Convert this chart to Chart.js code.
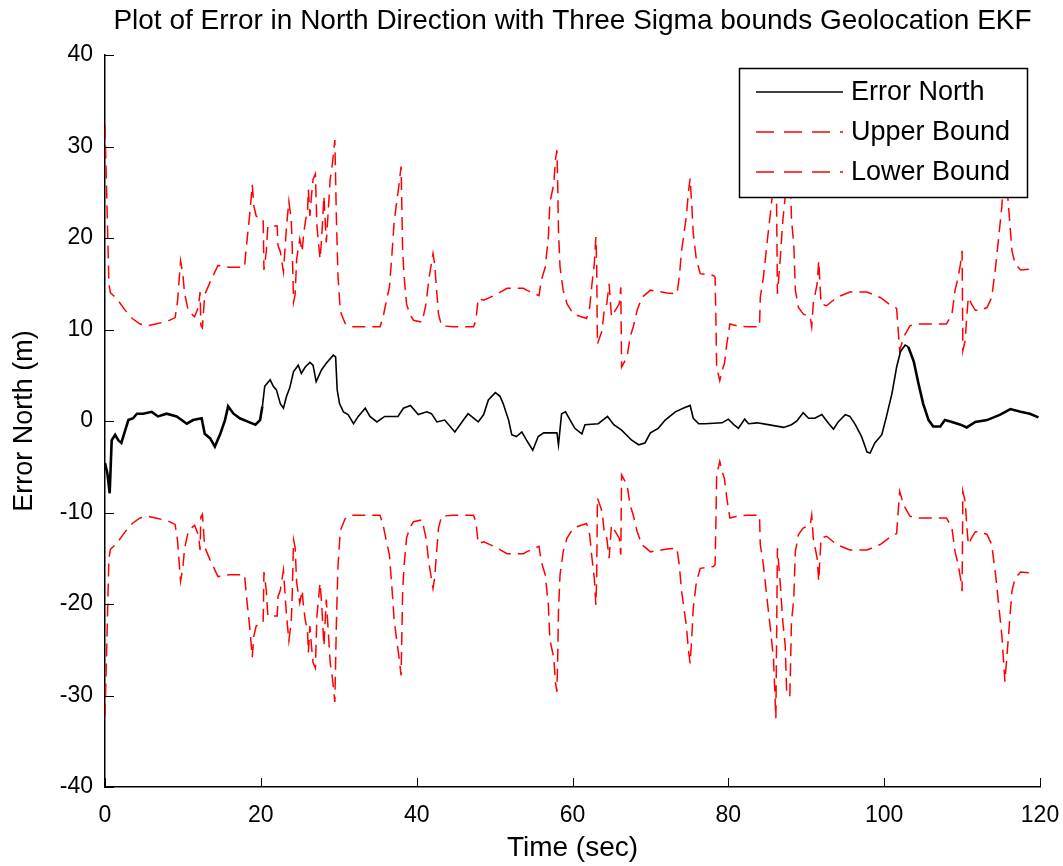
<!DOCTYPE html>
<html>
<head>
<meta charset="utf-8">
<script src="https://cdn.jsdelivr.net/npm/chart.js@4.4.0/dist/chart.umd.min.js"></script>
<style>
  body { margin: 0; background: #fff; }
  #wrap { width: 1063px; height: 866px; }
</style>
</head>
<body>
<div id="wrap"><canvas id="myChart" width="1063" height="866"></canvas></div>
<script>
// error in north direction (time in sec, error in m)
const errTime = [0,0.3,0.6,0.86,1.3,1.7,2.1,2.6,3.0,3.6,4.1,4.9,6.0,6.8,7.9,9.2,10.5,11.3,12.4,12.8,13.5,14.1,14.8,15.4,15.8,16.5,17.3,18.4,19.3,19.9,
  20.2,20.5,21.2,21.6,22.0,22.5,22.9,23.3,23.7,24.2,24.8,25.2,25.7,26.3,26.7,27.1,27.8,28.4,29.3,29.6,29.8,30.1,30.6,31.2,31.9,32.5,33.4,34.0,34.9,35.9,
  37.6,38.3,39.2,40.2,41.3,41.9,42.6,43.6,44.9,46.0,46.6,47.9,48.6,49.2,50.1,50.7,51.1,51.8,52.2,52.8,53.5,54.1,54.9,55.6,56.3,58.0,58.2,58.6,59.1,59.7,
  60.3,61.2,61.6,63.3,64.5,65.3,66.3,67.6,68.5,69.3,70.0,71.0,71.9,73.2,74.2,75.1,75.5,76.2,77.0,79.2,80.0,80.7,81.3,82.1,82.6,83.7,85.1,87.1,88.1,88.8,
  89.6,90.3,91.1,92.0,92.9,93.5,94.1,95.0,95.6,96.3,97.1,97.8,98.2,98.8,99.7,100.3,101.0,101.6,102.1,102.7,103.1,103.8,104.4,105.0,105.7,106.3,107.2,107.8,108.7,109.8,
  110.6,111.7,113.2,114.9,116.2,117.5,118.7,119.8];
const errNorth = [-4.6,-5.7,-7.9,-2.1,-1.5,-2.1,-2.4,-1.0,0.1,0.3,0.8,0.8,1.0,0.5,0.8,0.5,-0.3,0.1,0.3,-1.4,-1.9,-2.8,-1.4,0.1,1.6,0.8,0.3,-0.1,-0.4,0.1,
  1.6,3.8,4.5,3.8,3.4,1.9,1.4,2.7,3.6,5.4,6.1,5.2,5.9,6.4,6.1,4.3,5.6,6.3,7.2,7.0,3.4,1.9,1.0,0.7,-0.3,0.5,1.4,0.5,-0.1,0.5,
  0.5,1.4,1.7,0.7,1.0,0.8,-0.1,0.1,-1.2,0.1,0.8,-0.1,0.7,2.3,3.1,2.7,1.9,0.1,-1.5,-1.7,-1.2,-2.1,-3.2,-1.7,-1.3,-1.3,-2.6,0.8,1.0,0.1,
  -0.8,-1.4,-0.4,-0.3,0.5,-0.4,-1.0,-2.1,-2.6,-2.4,-1.3,-0.8,0.1,1.0,1.4,1.7,0.3,-0.3,-0.3,-0.2,0.2,-0.4,-0.8,0.2,-0.3,-0.2,-0.4,-0.7,-0.4,0.0,
  0.9,0.3,0.3,0.7,-0.3,-0.9,-0.1,0.7,0.5,-0.4,-1.7,-3.4,-3.5,-2.4,-1.5,0.5,3.0,5.9,7.6,8.3,8.1,6.5,4.1,1.9,0.1,-0.6,-0.6,0.1,-0.1,-0.4,
  -0.7,-0.1,0.1,0.7,1.3,1.0,0.8,0.4];

// three sigma bounds
const boundTime = [0,0.3,0.5,0.7,1.5,2.5,3.5,4.5,5.5,6.5,8.0,9.0,9.3,9.7,10.0,10.2,10.7,11.5,12.0,12.2,12.3,12.5,12.8,13.5,14.5,16.0,17.9,18.2,18.6,18.9,
  19.1,19.4,20.3,20.4,20.7,20.9,21.3,22.1,22.2,22.5,22.9,23.3,23.6,23.9,24.0,24.2,24.4,24.6,25.0,25.3,25.5,25.7,26.0,26.1,26.3,26.5,26.7,27.0,27.2,27.6,
  27.8,28.1,28.4,28.9,29.2,29.5,29.7,29.9,30.2,30.8,31.6,32.7,35.3,35.7,36.2,36.5,36.8,37.1,37.4,37.7,38.0,38.1,38.2,38.4,38.7,39.1,39.6,40.7,41.2,41.6,
  42.1,42.3,42.5,42.8,43.2,44.7,47.3,47.6,47.9,48.6,49.9,51.6,53.7,54.1,55.7,56.0,56.5,56.9,57.1,57.6,57.8,58.0,58.1,58.2,58.4,58.8,59.3,60.1,61.8,62.2,
  62.5,62.8,63.0,63.1,63.2,63.8,64.1,64.4,64.7,65.0,66.0,66.2,66.3,67.0,67.4,67.8,68.3,68.9,70.0,72.1,73.4,73.7,74.0,74.6,74.9,75.1,75.3,75.5,75.9,76.4,
  78.1,78.3,78.4,78.5,78.9,79.2,79.5,79.8,80.2,81.1,82.4,84.0,84.1,84.5,85.0,85.4,85.8,86.1,86.3,86.6,87.0,87.3,87.5,87.9,88.1,88.4,88.6,89.0,89.6,90.5,
  90.7,90.9,91.4,91.6,91.9,92.6,93.9,95.6,97.8,99.5,100.6,101.6,101.8,102.0,102.5,103.3,104.2,108.0,108.7,109.1,109.5,109.8,110.0,110.1,110.4,110.6,110.8,111.2,111.7,112.3,
  113.2,113.8,114.3,114.7,115.1,115.5,116.0,116.4,116.8,117.5,118.7,119.0];
const upperBound = [32.3,22.0,15.0,14.0,13.4,12.2,11.2,10.6,10.4,10.6,10.9,11.3,13.0,17.5,16.0,14.0,12.0,11.4,12.5,14.1,10.5,10.2,13.8,15.2,17.0,16.8,16.8,19.5,22.8,25.8,
  23.5,22.4,22.0,16.5,18.5,21.3,21.3,21.3,19.2,18.5,16.3,21.3,24.0,22.0,19.9,13.0,13.8,17.7,19.9,18.5,20.5,21.7,23.1,25.3,22.4,24.6,26.4,27.0,21.3,17.7,
  19.9,24.6,19.5,26.4,28.2,30.7,22.0,15.9,12.0,10.7,10.3,10.3,10.3,11.4,13.5,14.6,17.9,21.6,23.7,25.6,27.8,23.4,18.6,15.7,12.8,11.7,11.0,10.8,12.8,15.7,
  18.3,17.2,15.0,11.7,10.4,10.3,10.3,11.0,13.4,13.2,13.7,14.5,14.5,14.3,13.7,15.4,16.8,20.1,23.9,25.9,28.5,29.6,25.9,20.8,16.8,14.3,12.8,11.7,11.2,12.4,
  15.0,17.2,20.1,17.2,8.4,9.9,12.4,12.8,15.0,11.4,12.8,14.6,5.9,7.0,9.2,10.3,12.1,13.5,14.3,14.0,13.9,15.7,18.6,22.3,25.2,26.5,23.7,20.5,17.6,16.1,
  15.9,15.7,11.4,5.9,4.4,5.5,6.3,8.4,10.6,10.4,10.3,10.3,13.5,15.7,19.7,22.7,26.0,32.5,13.9,17.0,22.0,24.5,30.0,30.0,22.0,19.4,14.3,12.4,11.7,11.4,
  10.3,12.8,15.0,17.5,12.8,12.6,13.5,14.1,14.1,13.5,12.8,12.3,9.9,7.7,9.2,10.4,10.6,10.6,11.7,14.3,15.7,17.2,18.6,7.7,8.8,11.4,13.5,12.8,12.1,12.1,
  12.4,13.5,16.8,20.1,23.4,28.5,23.0,18.6,17.2,16.5,16.6,16.8];
const lowerBound = [-32.3,-22.0,-15.0,-14.0,-13.4,-12.2,-11.2,-10.6,-10.4,-10.6,-10.9,-11.3,-13.0,-17.5,-16.0,-14.0,-12.0,-11.4,-12.5,-14.1,-10.5,-10.2,-13.8,-15.2,-17.0,-16.8,-16.8,-19.5,-22.8,-25.8,
  -23.5,-22.4,-22.0,-16.5,-18.5,-21.3,-21.3,-21.3,-19.2,-18.5,-16.3,-21.3,-24.0,-22.0,-19.9,-13.0,-13.8,-17.7,-19.9,-18.5,-20.5,-21.7,-23.1,-25.3,-22.4,-24.6,-26.4,-27.0,-21.3,-17.7,
  -19.9,-24.6,-19.5,-26.4,-28.2,-30.7,-22.0,-15.9,-12.0,-10.7,-10.3,-10.3,-10.3,-11.4,-13.5,-14.6,-17.9,-21.6,-23.7,-25.6,-27.8,-23.4,-18.6,-15.7,-12.8,-11.7,-11.0,-10.8,-12.8,-15.7,
  -18.3,-17.2,-15.0,-11.7,-10.4,-10.3,-10.3,-11.0,-13.4,-13.2,-13.7,-14.5,-14.5,-14.3,-13.7,-15.4,-16.8,-20.1,-23.9,-25.9,-28.5,-29.6,-25.9,-20.8,-16.8,-14.3,-12.8,-11.7,-11.2,-12.4,
  -15.0,-17.2,-20.1,-17.2,-8.4,-9.9,-12.4,-12.8,-15.0,-11.4,-12.8,-14.6,-5.9,-7.0,-9.2,-10.3,-12.1,-13.5,-14.3,-14.0,-13.9,-15.7,-18.6,-22.3,-25.2,-26.5,-23.7,-20.5,-17.6,-16.1,
  -15.9,-15.7,-11.4,-5.9,-4.4,-5.5,-6.3,-8.4,-10.6,-10.4,-10.3,-10.3,-13.5,-15.7,-19.7,-22.7,-26.0,-32.5,-13.9,-17.0,-22.0,-24.5,-30.0,-30.0,-22.0,-19.4,-14.3,-12.4,-11.7,-11.4,
  -10.3,-12.8,-15.0,-17.5,-12.8,-12.6,-13.5,-14.1,-14.1,-13.5,-12.8,-12.3,-9.9,-7.7,-9.2,-10.4,-10.6,-10.6,-11.7,-14.3,-15.7,-17.2,-18.6,-7.7,-8.8,-11.4,-13.5,-12.8,-12.1,-12.1,
  -12.4,-13.5,-16.8,-20.1,-23.4,-28.5,-23.0,-18.6,-17.2,-16.5,-16.6,-16.8];

const seriesLabels = ["Error North","Upper Bound","Lower Bound"];
const xTicks = [0,20,40,60,80,100,120];
const yTicks = [-40,-30,-20,-10,0,10,20,30,40];

const FONT = "'Liberation Sans', Arial, Helvetica, sans-serif";

function pairs(xs, ys){
    return xs.map((x,i)=>({x:x, y:ys[i]}));
}

// tick marks pointing into the plot, like matlab
const innerTicks = {
    id: "innerTicks",
    afterDraw(chart){
        const ctx = chart.ctx;
        const area = chart.chartArea;
        const xs = chart.scales.x, ys = chart.scales.y;
        ctx.save();
        ctx.strokeStyle = "#000";
        ctx.lineWidth = 1;
        ctx.beginPath();
        xTicks.forEach(v=>{
            const px = Math.round(xs.getPixelForValue(v)) + 0.5;
            ctx.moveTo(px, area.bottom);
            ctx.lineTo(px, area.bottom - 9);
        });
        yTicks.forEach(v=>{
            const py = Math.round(ys.getPixelForValue(v)) + 0.5;
            ctx.moveTo(area.left, py);
            ctx.lineTo(area.left + 9, py);
        });
        ctx.stroke();
        ctx.restore();
    }
};

// boxed legend in the upper right corner of the axes
const boxLegend = {
    id: "boxLegend",
    afterDraw(chart){
        const ctx = chart.ctx;
        const area = chart.chartArea;
        const w = 288, h = 129;
        const left = area.right - 301, top = area.top + 13;
        ctx.save();
        ctx.fillStyle = "#fff";
        ctx.fillRect(left, top, w, h);
        ctx.strokeStyle = "#000";
        ctx.lineWidth = 1.5;
        ctx.strokeRect(left + 0.5, top + 0.5, w, h);
        ctx.font = "27px " + FONT;
        ctx.textBaseline = "middle";
        ctx.textAlign = "left";
        chart.data.datasets.forEach((ds,i)=>{
            const y = top + 24 + i * 40;
            ctx.strokeStyle = ds.borderColor;
            ctx.lineWidth = 1.5;
            ctx.setLineDash(ds.legendDash || []);
            ctx.beginPath();
            ctx.moveTo(left + 17, y);
            ctx.lineTo(left + 104, y);
            ctx.stroke();
            ctx.setLineDash([]);
            ctx.fillStyle = "#000";
            ctx.fillText(ds.label, left + 112, y + 1);
        });
        ctx.restore();
    }
};

let lineChart = new Chart("myChart", {
    type: "line",
    data: {
        datasets: [{
            label: seriesLabels[0],
            data: pairs(errTime, errNorth),
            borderColor: "#000",
            borderWidth: 1.6,
            segment: {
                borderWidth: c => (c.p0.parsed.x < 20 || c.p0.parsed.x > 103) ? 2.6 : 1.6
            },
            pointRadius: 0,
            tension: 0
        },{
            label: seriesLabels[1],
            data: pairs(boundTime, upperBound),
            borderColor: "#ff0000",
            borderWidth: 1.5,
            borderDash: [13, 7],
            legendDash: [18, 10],
            pointRadius: 0,
            tension: 0
        },{
            label: seriesLabels[2],
            data: pairs(boundTime, lowerBound),
            borderColor: "#ff0000",
            borderWidth: 1.5,
            borderDash: [13, 7],
            legendDash: [18, 10],
            pointRadius: 0,
            tension: 0
        }]
    },
    options: {
        responsive: false,
        animation: false,
        layout: { padding: { left: 0, right: 23, top: 0, bottom: 0 } },
        plugins: {
            legend: { display: false },
            tooltip: { enabled: false },
            title: {
                display: true,
                text: "Plot of Error in North Direction with Three Sigma bounds Geolocation EKF",
                color: "#000",
                fullSize: false,
                font: { family: FONT, size: 28, weight: "normal", lineHeight: 1.2 },
                padding: { top: 4, bottom: 17.4 }
            }
        },
        scales: {
            x: {
                type: "linear",
                min: 0, max: 120,
                afterFit: s => { s.height = 79; s.paddingLeft = 0; s.paddingRight = 0; },
                afterBuildTicks: s => { s.ticks = xTicks.map(v => ({value: v})); },
                grid: { display: false, drawTicks: false },
                border: { display: true, color: "#000", width: 1.5 },
                ticks: { color: "#000", padding: 15, font: { family: FONT, size: 23 }, maxRotation: 0 },
                title: { display: true, text: "Time (sec)", color: "#000",
                    font: { family: FONT, size: 28, lineHeight: 1.2 }, padding: { top: 0, bottom: 1 } }
            },
            y: {
                min: -40, max: 40,
                afterFit: s => { s.width = 105; s.paddingTop = 0; s.paddingBottom = 0; },
                afterBuildTicks: s => { s.ticks = yTicks.map(v => ({value: v})); },
                grid: { display: false, drawTicks: false },
                border: { display: true, color: "#000", width: 1.5 },
                ticks: { color: "#000", padding: 12, font: { family: FONT, size: 23 } },
                title: { display: true, text: "Error North (m)", color: "#000",
                    font: { family: FONT, size: 27, lineHeight: 1.2 }, padding: { top: 8, bottom: 0 } }
            }
        }
    },
    plugins: [innerTicks, boxLegend]
});
</script>
</body>
</html>
